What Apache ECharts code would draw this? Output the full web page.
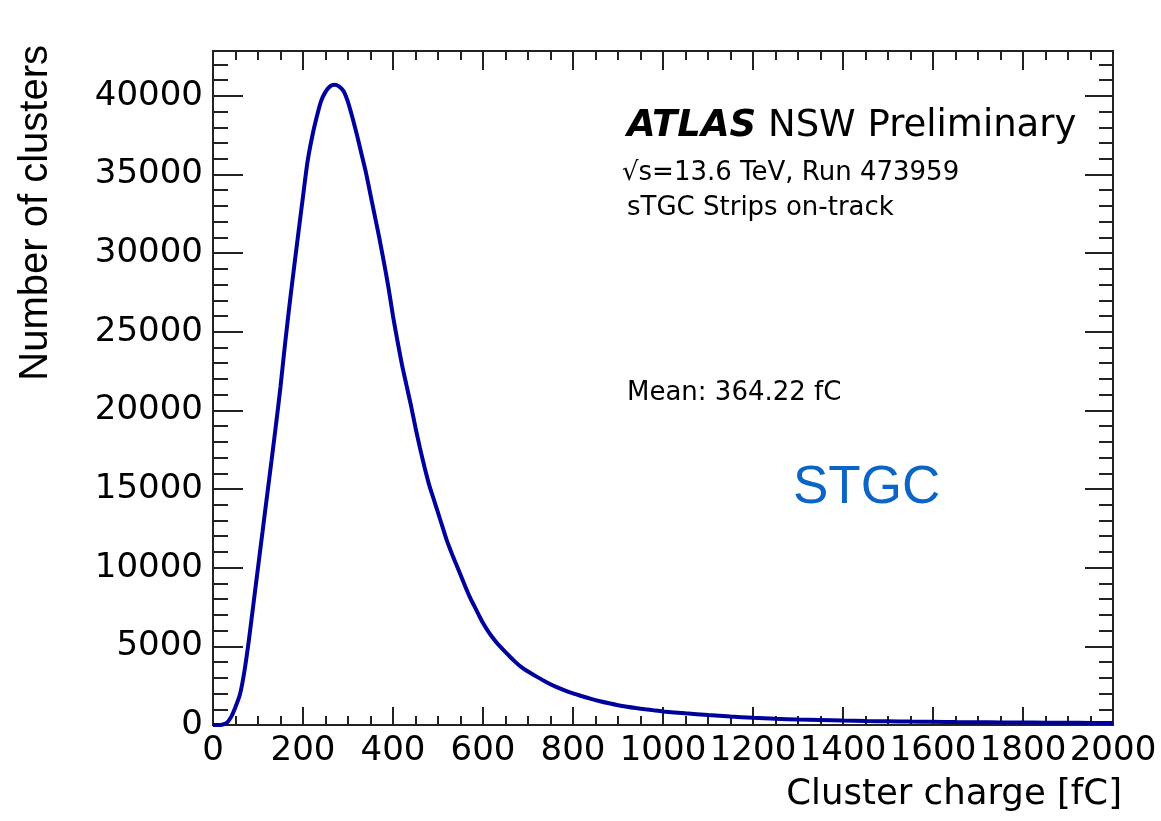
<!DOCTYPE html>
<html>
<head>
<meta charset="utf-8">
<script src="https://cdn.jsdelivr.net/npm/echarts@6/dist/echarts.min.js"></script>
<style>
html,body{margin:0;padding:0;background:#fff;}
#chart{width:1161px;height:821px;}
</style>
</head>
<body>
<div id="chart"></div>
<script>
// ---- data ----
var charge = [0,10,20,30,40,50,60,70,80,90,100,110,120,130,140,150,160,170,180,190,200,210,220,230,240,250,260,270,280,290,300,310,320,330,340,350,360,370,380,390,400,410,420,430,440,450,460,470,480,490,500,510,520,530,540,550,560,570,580,590,600,610,620,630,640,650,660,670,680,690,700,720,740,760,780,800,820,840,860,880,900,920,940,960,980,1000,1050,1100,1150,1200,1250,1300,1350,1400,1450,1500,1550,1600,1650,1700,1750,1800,1850,1900,1950,2000];
var clusters = [0,0,20,120,500,1150,1950,3450,5450,7730,10000,12270,14550,16800,19100,21500,24200,26700,29050,31350,33600,35800,37350,38600,39650,40250,40600,40700,40600,40300,39600,38600,37500,36300,35100,33700,32300,30900,29400,27800,26000,24400,22900,21600,20300,18900,17600,16400,15300,14400,13500,12600,11700,10950,10250,9550,8850,8180,7600,7030,6480,6020,5610,5250,4930,4630,4340,4060,3800,3590,3400,3060,2740,2460,2220,2010,1830,1660,1510,1380,1260,1160,1075,1000,930,865,740,630,535,455,395,345,310,280,255,235,215,200,185,175,165,155,148,140,133,125];
var xTicks = {min:0, max:2000, major:200, minorSplit:4};
var yTicks = {min:0, max:42850, major:5000, minor:1000};
var xTitle = 'Cluster charge [fC]';
var yTitle = 'Number of clusters';
var labelLines = ['√s=13.6 TeV, Run 473959', 'sTGC Strips on-track'];
var meanText = 'Mean: 364.22 fC';
var overlayText = 'STGC';

var FONT = 'DejaVu Sans';
var AX = '#222';
var chart = echarts.init(document.getElementById('chart'), null, {renderer:'canvas'});

function plain(v){ return String(Math.round(v)); }

function xAxisDef(pos, showLabel, majorLen, minorLen){
  return {
    type:'value', position:pos, min:xTicks.min, max:xTicks.max, interval:xTicks.major,
    axisLine:{show:true, onZero:false, lineStyle:{color:AX, width:2}},
    axisTick:{show:true, inside:true, length:majorLen, lineStyle:{color:AX, width:2}},
    minorTick:{show:true, splitNumber:xTicks.minorSplit, length:minorLen, lineStyle:{color:AX, width:2}},
    axisLabel:{show:showLabel, margin:9, fontFamily:FONT, fontSize:34, color:'#000',
      formatter:plain, showMinLabel:true, showMaxLabel:true, hideOverlap:false},
    splitLine:{show:false}, minorSplitLine:{show:false}
  };
}
function yAxisDef(pos, interval, showLabel, len){
  return {
    type:'value', position:pos, min:yTicks.min, max:yTicks.max, interval:interval,
    axisLine:{show:true, onZero:false, lineStyle:{color:AX, width:2}},
    axisTick:{show:true, inside:true, length:len, lineStyle:{color:AX, width:2}},
    axisLabel:{show:showLabel, margin:10, fontFamily:FONT, fontSize:34, color:'#000',
      formatter:plain, showMinLabel:true, showMaxLabel:false},
    splitLine:{show:false}
  };
}

var seriesData = charge.map(function(c,i){ return [c, clusters[i]]; });

chart.setOption({
  backgroundColor:'#fff',
  animation:false,
  grid:{left:213, right:48, top:51, bottom:96, containLabel:false},
  xAxis:[ xAxisDef('bottom', true, 18, 9), xAxisDef('top', false, 19, 9) ],
  yAxis:[
    yAxisDef('left', yTicks.major, true, 30),
    yAxisDef('left', yTicks.minor, false, 15),
    yAxisDef('right', yTicks.major, false, 28),
    yAxisDef('right', yTicks.minor, false, 14)
  ],
  series:[{
    type:'line', xAxisIndex:0, yAxisIndex:0, data:seriesData,
    showSymbol:false, symbol:'none', smooth:0.25,
    lineStyle:{color:'#00009c', width:4}, itemStyle:{color:'#00009c'}, z:5
  }],
  graphic:[
    {type:'text', x:627, y:126, style:{text:'{a|ATLAS} NSW Preliminary', fill:'#000', font:'37px "DejaVu Sans"', textVerticalAlign:'middle', rich:{a:{fontFamily:FONT, fontSize:37, fontWeight:'bold', fontStyle:'italic', fill:'#000'}}}},
    {type:'text', x:622, y:173, style:{text:labelLines[0], fill:'#000', font:'26px "DejaVu Sans"', textVerticalAlign:'middle'}},
    {type:'text', x:627, y:208, style:{text:labelLines[1], fill:'#000', font:'26px "DejaVu Sans"', textVerticalAlign:'middle'}},
    {type:'text', x:627, y:393, style:{text:meanText, fill:'#000', font:'26px "DejaVu Sans"', textVerticalAlign:'middle'}},
    {type:'text', x:793, y:488, style:{text:overlayText, fill:'#0b64c6', font:'53px "Liberation Sans"', textVerticalAlign:'middle'}},
    {type:'text', x:1122, y:795, style:{text:xTitle, fill:'#000', font:'35.5px "DejaVu Sans"', textAlign:'right', textVerticalAlign:'middle'}},
    {type:'text', x:36, y:45, rotation:Math.PI/2, style:{text:yTitle, fill:'#000', font:'40px "Liberation Sans"', textAlign:'right', textVerticalAlign:'middle'}}
  ]
});
</script>
</body>
</html>
